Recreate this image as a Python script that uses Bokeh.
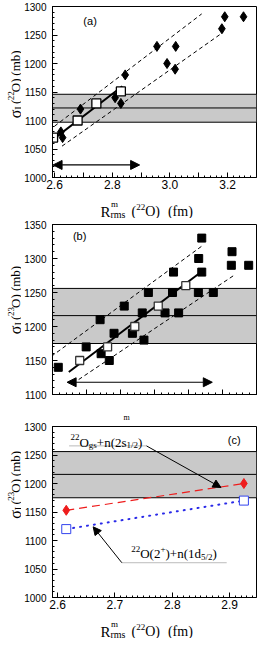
import numpy as np
from bokeh.plotting import figure
from bokeh.layouts import column, row
from bokeh.models import Label, Arrow, NormalHead, BoxAnnotation, Span, FixedTicker, Range1d
from bokeh.core.properties import value
from bokeh.embed import file_html
from bokeh.resources import INLINE

# ---------------- data ----------------
# panel (a)  sigma_I(22O) vs R_rms(22O)
a_calc_x = [2.622, 2.628, 2.69, 2.81, 2.83, 2.845, 2.955, 2.99, 3.018, 3.02, 3.18, 3.19, 3.255]
a_calc_y = [1080, 1070, 1120, 1140, 1130, 1180, 1230, 1200, 1190, 1230, 1261, 1282, 1282]
a_open_x = [2.595, 2.68, 2.745, 2.83]
a_open_y = [1070, 1100, 1130, 1151]
a_fit_x = [2.593, 2.835]
a_fit_y = [1066, 1160]
a_up_x = [2.60, 3.11]
a_up_y = [1090, 1287]
a_lo_x = [2.626, 3.185]
a_lo_y = [1055, 1255]
a_band = [1097, 1122, 1146]
a_arrow_x = [2.595, 2.895]
a_arrow_y = [1022, 1022]

# panel (b)  sigma_I(23O)
b_calc_x = [2.617, 2.699, 2.740, 2.743, 2.767, 2.781, 2.811, 2.835, 2.864, 2.869, 2.882, 2.931,
            2.953, 2.956, 2.971, 3.029, 3.030, 3.039, 3.039, 3.073, 3.126, 3.128, 3.177]
b_calc_y = [1140, 1170, 1210, 1160, 1150, 1190, 1230, 1190, 1220, 1180, 1250, 1220,
            1250, 1280, 1220, 1250, 1300, 1330, 1280, 1250, 1290, 1310, 1290]
b_open_x = [2.680, 2.762, 2.842, 2.911, 2.992]
b_open_y = [1150, 1170, 1200, 1230, 1260]
b_fit_x = [2.648, 3.034]
b_fit_y = [1133, 1279]
b_up_x = [2.58, 3.044]
b_up_y = [1150, 1320]
b_lo_x = [2.677, 3.136]
b_lo_y = [1122, 1276]
b_band = [1175, 1216, 1256]
b_arrow_x = [2.643, 3.07]
b_arrow_y = [1118, 1118]

# panel (c)
c_x = [2.615, 2.925]
c_red = [1153, 1200]
c_blue = [1120, 1170]
c_band = [1175, 1216, 1256]

# tick labels
a_xticks = [2.6, 2.7, 2.8, 2.9, 3.0, 3.1, 3.2]
a_xlabels = {2.6: "2.6", 2.7: "", 2.8: "2.8", 2.9: "", 3.0: "3.0", 3.1: "", 3.2: "3.2"}
b_xticks = [2.6, 2.7, 2.8, 2.9, 3.0, 3.1, 3.2]
c_xticks = [2.6, 2.7, 2.8, 2.9]

# ---------------- helpers ----------------
SERIF = "Liberation Serif"
SANS = "Liberation Sans"
TW = {' ': 0.25, '(': 0.333, ')': 0.333, '+': 0.564, '/': 0.278, 'O': 0.722, 'R': 0.667,
      'I': 0.333, 'b': 0.5, 'd': 0.5, 'f': 0.333, 'g': 0.5, 'm': 0.778, 'n': 0.5, 'r': 0.333,
      's': 0.389, 'σ': 0.6}
FW = 206      # frame width of every panel
YT_W = 21     # width of the y-title strip
LB = 29       # left border of panels (tick labels)
PW = LB + FW + 1
TOTAL_W = YT_W + PW


def tw(s, size):
    return sum(TW.get(c, 0.5) for c in s) * size


def rich_glyph(p, x0, y0, pieces, rotated=False, font=SERIF):
    """Draw a run of text pieces (text, size, baseline shift) as text glyphs."""
    adv = 0.0
    for txt, size, dy in pieces:
        if txt == "_":
            adv += size
            continue
        if rotated:
            x, y, ang = x0 - dy, y0 + adv, np.pi / 2
        else:
            x, y, ang = x0 + adv, y0 + dy, 0.0
        p.text(x=[x], y=[y], text=[txt], angle=ang, text_font=value(font),
               text_font_size=value(f"{size}px"), text_align="left",
               text_baseline="alphabetic", text_color="black")
        adv += tw(txt, size)


def rich_label(p, x0, y0, pieces, font=SERIF):
    """Rich text inside a frame, positioned in screen pixels from the frame's bottom-left."""
    adv = 0.0
    for txt, size, dy in pieces:
        p.add_layout(Label(x=x0 + adv, y=y0 + dy, x_units="screen", y_units="screen", text=txt,
                           text_font=font, text_font_size=f"{size}px", text_align="left",
                           text_baseline="alphabetic", text_color="black"))
        adv += tw(txt, size)


def pix_fig(w, h):
    p = figure(width=w, height=h, x_range=Range1d(0, w), y_range=Range1d(0, h), title=None,
               x_axis_location=None, y_axis_location=None, min_border=0,
               toolbar_location=None, output_backend="svg")
    p.grid.visible = False
    p.outline_line_color = None
    p.background_fill_color = "white"
    p.border_fill_color = "white"
    return p


def make_fig(xr, yr, fh, top, bottom):
    p = figure(x_range=Range1d(*xr), y_range=Range1d(*yr), width=PW, height=top + fh + bottom,
               min_border_left=LB, min_border_right=1, min_border_top=top, title=None,
               min_border_bottom=bottom, toolbar_location=None, output_backend="svg",
               background_fill_color="white", border_fill_color="white")
    p.grid.visible = False
    p.outline_line_color = "black"
    p.outline_line_width = 1
    for ax in (p.xaxis[0], p.yaxis[0]):
        ax.axis_line_color = "black"
        ax.major_tick_line_color = "black"
        ax.minor_tick_line_color = "black"
        ax.major_tick_in = 5
        ax.major_tick_out = 0
        ax.minor_tick_in = 2
        ax.minor_tick_out = 0
        ax.major_label_text_color = "black"
        ax.major_label_text_font = SANS
    p.xaxis.major_label_text_font_size = "12px"
    p.yaxis.major_label_text_font_size = "10px"
    p.xaxis.major_label_standoff = 2
    p.yaxis.major_label_standoff = 6
    p.yaxis.ticker = FixedTicker(ticks=list(range(int(yr[0]), int(yr[1]) + 1, 50)),
                                 minor_ticks=list(range(int(yr[0]), int(yr[1]) + 1, 10)))
    return p


def band(p, vals):
    p.add_layout(BoxAnnotation(bottom=vals[0], top=vals[2], fill_color="#c9c9c9", fill_alpha=1,
                               line_color=None, level="underlay"))
    for v in vals:
        p.add_layout(Span(location=v, dimension="width", line_color="black", line_width=1,
                          level="underlay"))


def dbl_arrow(p, xs, ys):
    p.add_layout(Arrow(x_start=xs[0], y_start=ys[0], x_end=xs[1], y_end=ys[1], line_width=1.2,
                       start=NormalHead(size=9, fill_color="black", line_color="black"),
                       end=NormalHead(size=9, fill_color="black", line_color="black")))


def ytitle_fig(h, bottom_border, above, iso):
    p = pix_fig(YT_W, h)
    rich_glyph(p, 15, bottom_border + above,
               [("σ", 16, 0), ("I", 10, -3), ("_", 3, 0), ("(", 13, 0), (iso, 9, 5),
                ("O)", 13, 0), ("_", 5, 0), ("(mb)", 13, 0)], rotated=True)
    return p


def xtitle_fig(h, base):
    p = pix_fig(TOTAL_W, h)
    x0 = YT_W + LB + 50
    # superscript m stacked above the subscript "rms"
    rich_glyph(p, x0 + 10.5, base + 8, [("m", 9, 0)])
    rich_glyph(p, x0, base, [("R", 15, 0), ("rms", 10, -3), ("_", 6, 0), ("(", 14, 0),
                             ("22", 9, 5), ("O)", 14, 0), ("_", 8, 0), ("(fm)", 14, 0)])
    return p


# ---------------- panel (a) ----------------
axr, ayr, ah, a_top, a_bot = (2.593, 3.30), (1000, 1300), 171, 6, 16
pa = make_fig(axr, ayr, ah, a_top, a_bot)
pa.xaxis.ticker = FixedTicker(ticks=a_xticks,
                              minor_ticks=list(np.round(np.arange(2.6, 3.30, 0.02), 2)))
pa.xaxis.major_label_overrides = a_xlabels
band(pa, a_band)
pa.line(a_up_x, a_up_y, line_color="black", line_width=1, line_dash="4 3")
pa.line(a_lo_x, a_lo_y, line_color="black", line_width=1, line_dash="4 3")
pa.line(a_fit_x, a_fit_y, line_color="black", line_width=2)
pa.scatter(a_calc_x, a_calc_y, marker="diamond", size=10, color="black")
pa.scatter(a_open_x, a_open_y, marker="square", size=9, fill_color="white", line_color="black",
           line_width=1.3)
dbl_arrow(pa, a_arrow_x, a_arrow_y)
pa.add_layout(Label(x=2.70, y=1264, text="(a)", text_font=SANS, text_font_size="11px",
                    text_color="black"))
ya = ytitle_fig(a_top + ah + a_bot, a_bot, 51, "22")
xa = xtitle_fig(25, 7)

# ---------------- panel (b) ----------------
bxr, byr, bh, b_top, b_bot = (2.6, 3.2), (1100, 1350), 170, 6, 13
pb = make_fig(bxr, byr, bh, b_top, b_bot)
pb.xaxis.ticker = FixedTicker(ticks=b_xticks,
                              minor_ticks=list(np.round(np.arange(2.6, 3.21, 0.02), 2)))
pb.xaxis.major_label_overrides = {t: "" for t in b_xticks}
band(pb, b_band)
pb.line(b_up_x, b_up_y, line_color="black", line_width=1, line_dash="4 3")
pb.line(b_lo_x, b_lo_y, line_color="black", line_width=1, line_dash="4 3")
pb.line(b_fit_x, b_fit_y, line_color="black", line_width=2)
pb.scatter(b_calc_x, b_calc_y, marker="square", size=8, color="black")
pb.scatter(b_open_x, b_open_y, marker="square", size=8, fill_color="white", line_color="#333333",
           line_width=1.3)
dbl_arrow(pb, b_arrow_x, b_arrow_y)
pb.add_layout(Label(x=2.66, y=1324, text="(b)", text_font=SANS, text_font_size="11px",
                    text_color="black"))
yb = ytitle_fig(b_top + bh + b_bot, b_bot, 54, "23")
xb = pix_fig(TOTAL_W, 13)
rich_glyph(xb, YT_W + LB + 73, 3.5, [("m", 8, 0)])

# ---------------- panel (c) ----------------
cxr, cyr, ch, c_top, c_bot = (2.591, 2.947), (1000, 1300), 171, 6, 16
pc = make_fig(cxr, cyr, ch, c_top, c_bot)
pc.xaxis.ticker = FixedTicker(ticks=c_xticks,
                              minor_ticks=list(np.round(np.arange(2.59, 2.95, 0.01), 2)))
band(pc, c_band)
pc.line(c_x, c_red, line_color="#ee1c1c", line_width=1.2, line_dash="8 5")
pc.line(c_x, c_blue, line_color="#2a2ae8", line_width=2, line_dash="1 6", line_cap="round")
pc.scatter(c_x, c_red, marker="diamond", size=10, color="#ee1c1c")
pc.scatter(c_x, c_blue, marker="square", size=9, fill_color="white", line_color="#3344ee",
           line_width=1)


def cs(x, y):
    return ((x - cxr[0]) / (cxr[1] - cxr[0]) * FW, (y - cyr[0]) / (cyr[1] - cyr[0]) * ch)


sx, sy = cs(2.622, 1272)
rich_label(pc, sx, sy, [("22", 9, 5), ("O", 13, 0), ("gs", 9, -3), ("+n(2s", 13, 0),
                        ("1/2", 9, -3), (")", 13, 0)])
pc.segment(x0=[2.62], y0=[1266], x1=[2.755], y1=[1266], line_color="#bbbbbb", line_width=1)
pc.add_layout(Arrow(x_start=2.755, y_start=1266, x_end=2.885, y_end=1193, line_width=1,
                    start=None, end=NormalHead(size=8, fill_color="black", line_color="black")))
sx, sy = cs(2.727, 1077)
rich_label(pc, sx, sy, [("22", 9, 5), ("O(2", 13, 0), ("+", 9, 5), (")+n(1d", 13, 0),
                        ("5/2", 9, -3), (")", 13, 0)])
pc.segment(x0=[2.712], y0=[1061], x1=[2.895], y1=[1061], line_color="#bbbbbb", line_width=1)
pc.add_layout(Arrow(x_start=2.712, y_start=1061, x_end=2.662, y_end=1124, line_width=1,
                    start=None, end=NormalHead(size=8, fill_color="black", line_color="black")))
pc.add_layout(Label(x=2.897, y=1266, text="(c)", text_font=SANS, text_font_size="11px",
                    text_color="black"))
yc = ytitle_fig(c_top + ch + c_bot, c_bot, 73, "23")
xc = xtitle_fig(25, 7)

layout = column(row(ya, pa, spacing=0), xa, row(yb, pb, spacing=0), xb,
                row(yc, pc, spacing=0), xc, spacing=0)
open("out.html", "w").write(file_html(layout, INLINE))
